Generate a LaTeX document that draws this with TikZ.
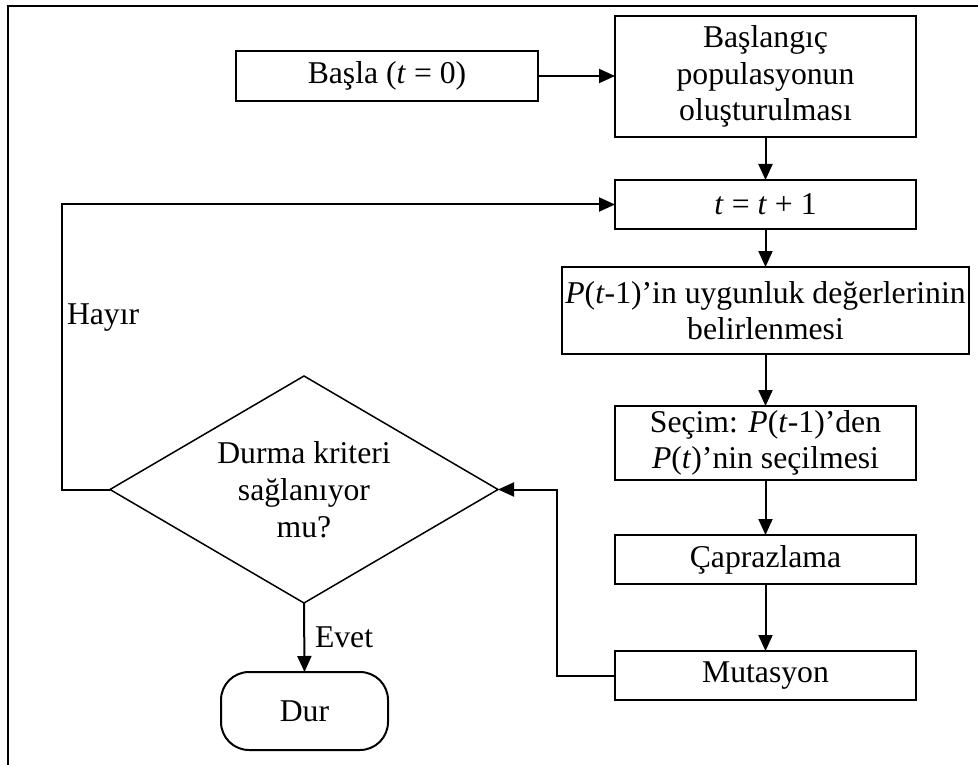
\documentclass[tikz,border=0pt]{standalone}
\usepackage{fontspec}
\setmainfont{Liberation Serif}
\usetikzlibrary{shapes.geometric,arrows.meta}
\begin{document}
\begin{tikzpicture}[x=1pt,y=-1pt,
  every node/.style={font=\fontsize{31.7}{36.5}\selectfont, inner sep=0pt, outer sep=0pt},
  box/.style={draw, line width=2pt, rectangle, align=center},
  decision/.style={draw, diamond, line width=1.5pt, minimum width=388pt, minimum height=227pt},
  terminal/.style={draw, rectangle, rounded corners=28pt, line width=2pt},
  flow/.style={line width=2pt, -{Triangle[length=16pt,width=14pt]}}]
\useasboundingbox (0,0) rectangle (978,765);
% outer frame (top and left edges)
\draw[line width=2.4pt] (8,765) -- (8,6) -- (978,6);

% process boxes
\node[box, minimum width=302pt, minimum height=50pt] (start) at (387,76) {Başla (\textit{t} = 0)};
\node[box, minimum width=301pt, minimum height=121pt] (init) at (765.5,76.5) {Başlangıç\\populasyonun\\oluşturulması};
\node[box, minimum width=301pt, minimum height=49pt] (inc) at (765.5,204.5) {\textit{t} = \textit{t} + 1};
\node[box, minimum width=407pt, minimum height=87pt] (fit) at (765.5,310.5) {\textit{P}(\textit{t}-1)’in uygunluk değerlerinin\\belirlenmesi};
\node[box, minimum width=301pt, minimum height=74pt] (sel) at (765.5,443) {Seçim: \textit{P}(\textit{t}-1)’den\\\textit{P}(\textit{t})’nin seçilmesi};
\node[box, minimum width=301pt, minimum height=49pt] (cross) at (765.5,559.5) {Çaprazlama};
\node[box, minimum width=301pt, minimum height=49pt] (mut) at (765.5,675.5) {Mutasyon};

% decision and end
\node[decision] (dec) at (304,489.5) {};
\node[align=center, font=\fontsize{31.7}{37}\selectfont] (dectext) at (dec.center) {Durma kriteri\\sağlanıyor\\mu?};
\node[terminal, minimum width=167pt, minimum height=78pt] (dur) at (304.5,711) {Dur};

% branch labels
\node[anchor=west] (no) at (67,318) {Hayır};
\node[anchor=west] (yes) at (315,637) {Evet};

% connectors
\draw[flow] (start.east) -- (start.east -| init.west);
\draw[flow] (init) -- (inc);
\draw[flow] (inc) -- (fit);
\draw[flow] (fit) -- (sel);
\draw[flow] (sel) -- (cross);
\draw[flow] (cross) -- (mut);
\draw[flow] (mut.west) -- ++(-58,0) |- (dec.east);
\draw[flow] (dec.west) -- ++(-48,0) |- (inc.west);
\draw[flow] (dec.south) -- (dur.north);
\end{tikzpicture}
\end{document}
